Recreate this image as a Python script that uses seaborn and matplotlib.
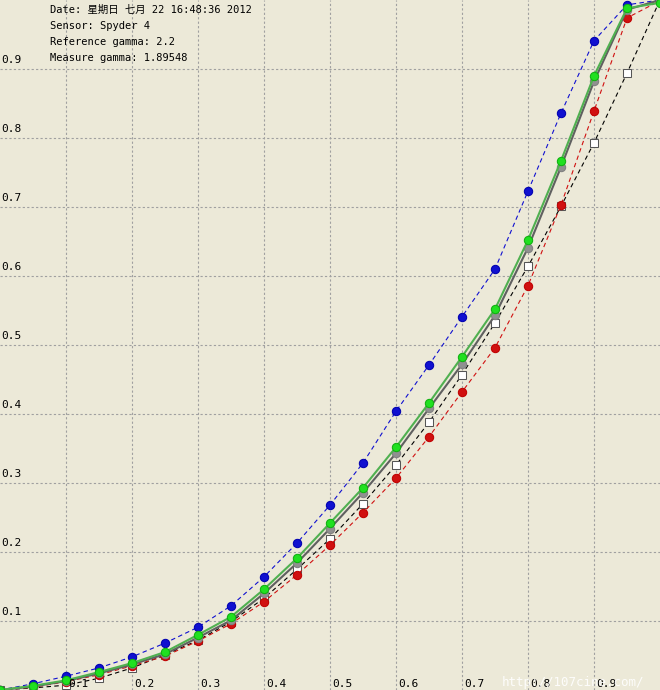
import numpy as np
import pandas as pd
import matplotlib
matplotlib.use("Agg")
import matplotlib.pyplot as plt
import seaborn as sns

x = [i * 0.05 for i in range(21)]
blue = [0, 0.009, 0.02, 0.032, 0.048, 0.068, 0.091, 0.122, 0.164, 0.213, 0.268, 0.329, 0.404,
        0.471, 0.541, 0.61, 0.723, 0.836, 0.941, 0.993, 1.0]
green = [0, 0.006, 0.014, 0.026, 0.039, 0.055, 0.08, 0.106, 0.146, 0.191, 0.242, 0.293, 0.352,
         0.416, 0.483, 0.552, 0.652, 0.767, 0.89, 0.988, 0.996]
gray = [0, 0.005, 0.013, 0.024, 0.037, 0.052, 0.076, 0.101, 0.14, 0.184, 0.234, 0.286, 0.343,
        0.408, 0.472, 0.543, 0.641, 0.758, 0.882, 0.986, 1.0]
black = [0, 0.003, 0.007, 0.017, 0.032, 0.051, 0.072, 0.099, 0.133, 0.175, 0.219, 0.27, 0.326,
         0.388, 0.457, 0.532, 0.614, 0.701, 0.793, 0.894, 1.0]
red = [0, 0.004, 0.012, 0.022, 0.035, 0.049, 0.071, 0.096, 0.128, 0.167, 0.21, 0.257, 0.307,
       0.367, 0.432, 0.496, 0.586, 0.703, 0.839, 0.974, 0.999]
info = ["Date: 星期日 七月 22 16:48:36 2012", "Sensor: Spyder 4",
        "Reference gamma: 2.2", "Measure gamma: 1.89548"]
ticks = [0.1, 0.2, 0.3, 0.4, 0.5, 0.6, 0.7, 0.8, 0.9]

sns.set_style("white")
plt.rcParams['font.family'] = ['DejaVu Sans Mono', 'Noto Sans CJK SC']
bg = "#ECE9D8"
fig = plt.figure(figsize=(6.6, 6.9), dpi=100, facecolor=bg)
ax = fig.add_axes([0, 0, 1, 1], facecolor=bg)
ax.set_xlim(0, 1)
ax.set_ylim(0, 1)
for t in ticks:
    ax.axvline(t, color="#a0a0a0", ls=(0, (2, 2)), lw=0.8, zorder=0)
    ax.axhline(t, color="#a0a0a0", ls=(0, (2, 2)), lw=0.8, zorder=0)
    ax.text(t + 0.004, 0.002, f"{t:.1f}", fontsize=8, va="bottom", ha="left", color="black")
    ax.text(0.002, t + 0.006, f"{t:.1f}", fontsize=8, va="bottom", ha="left", color="black")

df = pd.DataFrame({"x": x, "blue": blue, "green": green, "gray": gray, "black": black, "red": red})
ms = 6
sns.lineplot(data=df, x="x", y="black", ax=ax, color="black", lw=0.8, ls=(0, (4, 3)),
             marker="s", markersize=ms, markerfacecolor="white", markeredgecolor="#555555")
sns.lineplot(data=df, x="x", y="red", ax=ax, color="#d01010", lw=0.8, ls=(0, (4, 3)),
             marker="o", markersize=ms, markeredgecolor="#c00000")
sns.lineplot(data=df, x="x", y="blue", ax=ax, color="#1010d0", lw=0.8, ls=(0, (4, 3)),
             marker="o", markersize=ms, markeredgecolor="#0000b0")
sns.lineplot(data=df, x="x", y="gray", ax=ax, color="#606060", lw=1.5,
             marker="o", markersize=ms, markerfacecolor="#909090", markeredgecolor="#808080")
sns.lineplot(data=df, x="x", y="green", ax=ax, color="#50b050", lw=1.5,
             marker="o", markersize=ms, markerfacecolor="#20e020", markeredgecolor="#10b010")

for i, line in enumerate(info):
    ax.text(0.075, 0.993 - i * 0.0235, line, fontsize=7.5, va="top", ha="left", color="black")
ax.text(0.76, 0.002, "http://107cine.com/", fontsize=9, color="white", va="bottom", ha="left",
        alpha=0.9)

ax.set_xticks([])
ax.set_yticks([])
ax.set_xlabel("")
ax.set_ylabel("")
for s in ax.spines.values():
    s.set_visible(False)
fig.savefig("out.png", dpi=100, facecolor=bg)
